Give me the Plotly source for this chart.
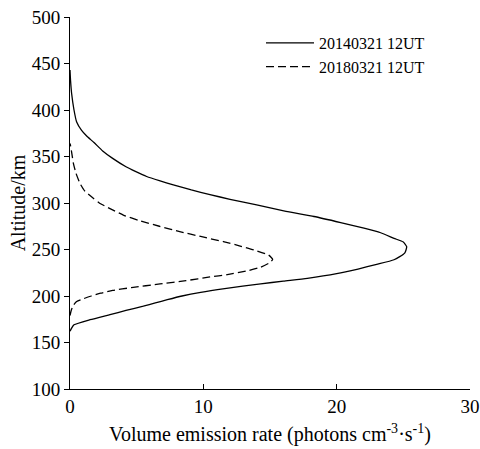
import plotly.graph_objects as go

# 20140321 12UT profile (emission rate vs altitude)
alt_2014 = [162, 165, 169, 174.5, 180, 184.5, 189, 192.5, 196, 200, 204, 208, 213, 216, 219, 224, 229, 234, 239,
            246, 253, 258, 262, 268, 273, 279, 285.5, 291, 298, 304, 309, 314, 319.5, 324, 328.5, 334, 339,
            348, 356, 365, 372, 378, 387, 400, 418, 432, 443]
vol_2014 = [0.0, 0.1, 0.3, 1.5, 3.0, 4.2, 5.5, 6.4, 7.3, 8.4, 9.8, 11.6, 14.3, 16.0, 17.8, 20.0, 21.6, 23.0, 24.3,
            25.1, 25.25, 25.0, 24.3, 23.3, 22.05, 20.3, 18.3, 16.2, 14.0, 12.0, 10.5, 9.1, 7.75, 6.7, 5.75, 4.9, 4.2,
            3.2, 2.45, 1.8, 1.25, 0.87, 0.5, 0.3, 0.12, 0.04, 0.0]

# 20180321 12UT profile
alt_2018 = [179, 185, 190, 194, 197, 200, 203, 206, 209, 213, 216.5, 220.5, 223, 227, 231, 236, 239.5, 244,
            249.5, 254, 258.5, 264, 269, 275, 281, 287, 294, 300, 305, 313, 321, 332, 343, 352, 361, 364]
vol_2018 = [0.0, 0.1, 0.25, 0.5, 1.0, 1.6, 2.3, 3.2, 4.6, 6.75, 8.7, 10.5, 11.8, 13.3, 14.3, 15.0, 15.2, 14.9,
            13.8, 12.7, 11.5, 9.8, 8.3, 6.7, 5.2, 4.0, 3.0, 2.2, 1.75, 1.1, 0.75, 0.45, 0.25, 0.15, 0.05, 0.0]

x_ticks = [0, 10, 20, 30]
y_ticks = [100, 150, 200, 250, 300, 350, 400, 450, 500]

fig = go.Figure()
fig.add_trace(go.Scatter(x=vol_2014, y=alt_2014, mode="lines", name="20140321 12UT",
                         line=dict(color="black", width=1.3, shape="spline", smoothing=0.5)))
fig.add_trace(go.Scatter(x=vol_2018, y=alt_2018, mode="lines", name="20180321 12UT",
                         line=dict(color="black", width=1.3, dash="8px,4px", shape="spline", smoothing=0.5)))

font_family = "Times New Roman, Liberation Serif, serif"
fig.update_layout(
    width=480, height=449,
    margin=dict(l=70, r=10, t=17, b=60),
    paper_bgcolor="white", plot_bgcolor="white",
    font=dict(family=font_family, size=19, color="black"),
    showlegend=True,
    legend=dict(x=0.4775, y=0.976, xanchor="left", yanchor="top",
                font=dict(family=font_family, size=16, color="black"),
                bgcolor="rgba(0,0,0,0)", tracegroupgap=7, itemwidth=48),
    xaxis=dict(range=[0, 30], tickvals=x_ticks, showgrid=False, zeroline=False,
               showline=True, linecolor="black", linewidth=1, automargin=False,
               ticks="inside", ticklen=5, tickcolor="black",
               title=dict(text="Volume emission rate (photons cm<sup>-3</sup>·s<sup>-1</sup>)",
                          font=dict(size=20), standoff=11),
               tickfont=dict(size=19)),
    yaxis=dict(range=[100, 500], tickvals=y_ticks, showgrid=False, zeroline=False,
               showline=True, linecolor="black", linewidth=1, automargin=False,
               ticks="outside", ticklen=5, tickcolor="black",
               title=dict(text="Altitude/km", font=dict(size=20), standoff=0),
               tickfont=dict(size=19)),
)

fig.write_html("out.html", config={"displayModeBar": False},
               post_script="document.body.style.margin='0';")
